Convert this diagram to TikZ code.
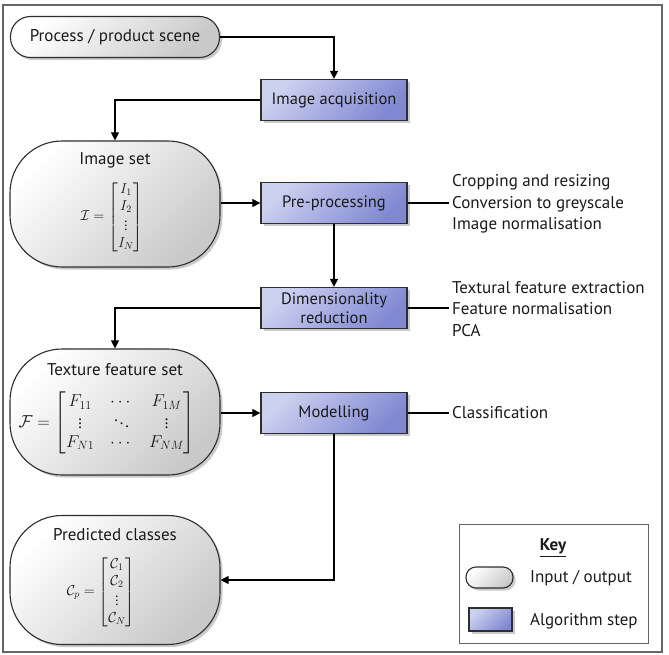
\documentclass[tikz,border=0pt]{standalone}
\usepackage{fontspec}
\setmainfont{PT Sans}
\usepackage{amsmath}
\usetikzlibrary{arrows.meta,shadows,calc}
\definecolor{stepL}{HTML}{CDD1F0}
\definecolor{stepD}{HTML}{8088D2}
\definecolor{ioD}{HTML}{C9C9C9}
\definecolor{edgec}{HTML}{2E2E2E}
\definecolor{framec}{HTML}{666666}
\definecolor{txt}{HTML}{1A1A1A}
\begin{document}
\begin{tikzpicture}[x=1pt,y=-1pt,
  font=\fontsize{17}{20}\selectfont, text=txt,
  shad/.style={drop shadow={shadow xshift=2.5pt,shadow yshift=-2.5pt,opacity=0.35,fill=black!60}},
  iopill/.style={draw=edgec, line width=1.1pt, rounded corners=20pt, top color=white, bottom color=ioD, shading angle=45, shad, inner sep=0pt},
  iobig/.style={draw=edgec, line width=1.1pt, rounded corners=52pt, top color=white, bottom color=ioD, shading angle=45, shad, inner sep=0pt, minimum width=210pt},
  stepbox/.style={draw=edgec, line width=1.3pt, top color=stepL, bottom color=stepD, shading angle=45, shad, inner sep=0pt, minimum width=146pt, minimum height=41pt, align=center, font=\fontsize{16.5}{19}\selectfont},
  arr/.style={draw=black, line width=1.1pt, -{Triangle[length=8pt,width=8pt]}},
  ln/.style={draw=black, line width=1.1pt},
  listtxt/.style={anchor=west, align=left, inner sep=3pt, font=\fontsize{17}{21.5}\selectfont},
  plain/.style={inner sep=0pt},
  mathtxt/.style={inner sep=0pt, font=\fontsize{16.5}{19}\selectfont},
  mathsm/.style={inner sep=0pt, font=\fontsize{14.5}{17}\selectfont}
]
\useasboundingbox (0,0) rectangle (669,655);
\draw[framec, line width=1.2pt] (3,5) rectangle (662,652);

% nodes
\node[iopill, minimum width=209pt, minimum height=41pt] (scene) at (115,37) {Process / product scene};
\node[stepbox] (acq) at (334,100) {Image acquisition};
\node[iobig, minimum height=126pt] (imgset) at (115,204) {};
\node[stepbox] (pre) at (334,203) {Pre-processing};
\node[stepbox] (dim) at (334,308) {Dimensionality\\reduction};
\node[iobig, minimum height=126pt] (tex) at (115,412) {};
\node[stepbox] (model) at (334,413) {Modelling};
\node[iobig, minimum height=129pt] (pred) at (115,580) {};

% node contents
\node[plain] (imgsetT) at ($(imgset.north)+(0,20)$) {Image set};
\node[mathsm] (imgsetM) at ($(imgset.center)+(-3,13)$) {$\mathcal{I} = \begin{bmatrix} I_1\\ I_2\\ \vdots\\ I_N\end{bmatrix}$};
\node[plain] (texT) at ($(tex.north)+(0,21)$) {Texture feature set};
\node[mathtxt] (texM) at ($(tex.center)+(-8,11)$) {$\setlength{\arraycolsep}{8pt}\mathcal{F} = \begin{bmatrix} F_{11} & \cdots & F_{1M}\\ \vdots & \ddots & \vdots\\ F_{N1} & \cdots & F_{NM}\end{bmatrix}$};
\node[plain] (predT) at ($(pred.north)+(0,20)$) {Predicted classes};
\node[mathsm] (predM) at ($(pred.center)+(-14,12)$) {$\mathcal{C}_p = \begin{bmatrix} \mathcal{C}_1\\ \mathcal{C}_2\\ \vdots\\ \mathcal{C}_N\end{bmatrix}$};

% side lists
\node[listtxt] (prelist) at (449,204) {Cropping and resizing\\Conversion to greyscale\\Image normalisation};
\node[listtxt] (dimlist) at (449,309) {Textural feature extraction\\Feature normalisation\\PCA};
\node[listtxt] (modlist) at (449,413) {Classification};

% connectors
\draw[arr] (scene.east) -| (acq.north);
\draw[arr] (acq.west) -| (imgset.north);
\draw[arr] (pre.west -| imgset.east) -- (pre.west);
\draw[arr] (pre.south) -- (dim.north);
\draw[arr] (dim.west) -| (tex.north);
\draw[arr] (model.west -| tex.east) -- (model.west);
\draw[arr] (model.south) |- (pred.east);
\draw[ln] (pre.east) -- (pre.east -| prelist.west);
\draw[ln] (dim.east) -- (dim.east -| dimlist.west);
\draw[ln] (model.east) -- (model.east -| modlist.west);

% key
\node[draw=framec, line width=1pt, minimum width=189pt, minimum height=119pt, inner sep=0pt] (key) at (553.5,583.5) {};
\node[plain] (keyT) at (553,548) {\textbf{\underline{Key}}};
\node[iopill, rounded corners=10pt, minimum width=47pt, minimum height=21pt] (keyio) at (489.5,577.5) {};
\node[stepbox, minimum width=43pt, minimum height=23pt] (keystep) at (490.5,619.5) {};
\node[plain, anchor=west] (keyioT) at (530,578) {Input / output};
\node[plain, anchor=west] (keystepT) at (530,621) {Algorithm step};
\end{tikzpicture}
\end{document}
